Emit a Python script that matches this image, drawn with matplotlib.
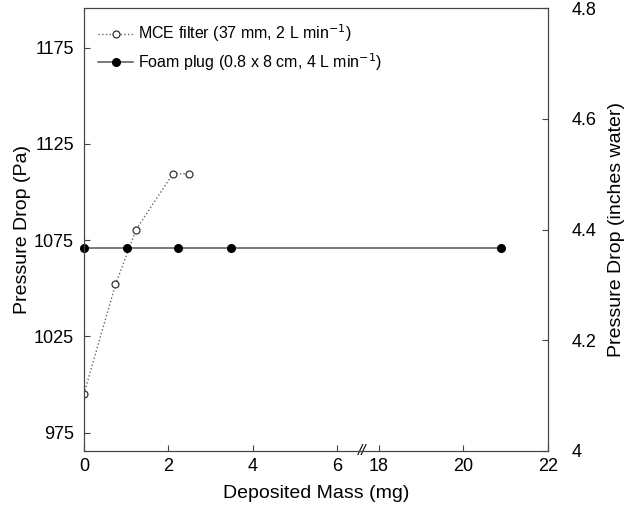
import numpy as np
import matplotlib
matplotlib.use("Agg")
import matplotlib.pyplot as plt

plt.rcParams["font.family"] = ["Liberation Sans", "DejaVu Sans"]

# dados
mce_mass = [0, 0.75, 1.24, 2.11, 2.49]
mce_dp = [995, 1052, 1080.5, 1109.5, 1109.5]
foam_mass = [0, 1.03, 2.24, 3.49, 20.9]
foam_dp = [1071, 1071, 1071, 1071, 1071]

x_ticks = [0, 2, 4, 6, 18, 20, 22]
y_ticks = [975, 1025, 1075, 1125, 1175]
y2_ticks = [4, 4.2, 4.4, 4.6, 4.8]
y2_labels = ["4", "4.2", "4.4", "4.6", "4.8"]


# eixo quebrado: 7..18 some
def fwd(x):
    x = np.asarray(x, dtype=float)
    return np.where(x <= 7, x, np.where(x >= 18, x - 11, 7.0))


def inv(x):
    x = np.asarray(x, dtype=float)
    return np.where(x <= 7, x, x + 11)


fig = plt.figure(figsize=(6.4, 5.14), dpi=100)
ax = fig.add_axes([0.131, 0.1226, 0.725, 0.8618])
ax.set_xscale("function", functions=(fwd, inv))

ax.plot(mce_mass, mce_dp, linestyle=":", color="#666666", lw=1,
        marker="o", mfc="white", mec="#333333", ms=5, mew=0.9,
        label=r"MCE filter (37 mm, 2 L min$^{-1}$)")
ax.plot(foam_mass, foam_dp, linestyle="-", color="#555555", lw=1.1,
        marker="o", mfc="black", mec="black", ms=5.5,
        label=r"Foam plug (0.8 x 8 cm, 4 L min$^{-1}$)", clip_on=False)

ax.set_xlim(0, 22)
ax.set_ylim(965.5, 1195.6)
ax.set_xticks(x_ticks)
ax.set_xticklabels([str(t) for t in x_ticks])
ax.set_yticks(y_ticks)
ax.tick_params(direction="in", length=4, labelsize=13, color="#444444",
               top=False)
ax.tick_params(axis="y", pad=7)
ax.tick_params(axis="x", pad=5)
ax.set_xlabel("Deposited Mass (mg)", fontsize=14, labelpad=7)
ax.set_ylabel("Pressure Drop (Pa)", fontsize=14, labelpad=2)
for s in ax.spines.values():
    s.set_color("#444444")

# marca de quebra
ax.text(6.6, 0, "//", transform=ax.get_xaxis_transform(), ha="center",
        va="center", fontsize=11, style="italic")

ax2 = ax.twinx()
ax2.set_ylim(4, 4.8)
ax2.set_yticks(y2_ticks)
ax2.set_yticklabels(y2_labels)
ax2.tick_params(direction="in", length=4, labelsize=13, color="#444444",
                pad=17)
ax2.set_ylabel("Pressure Drop (inches water)", fontsize=14, labelpad=8)
for s in ax2.spines.values():
    s.set_color("#444444")

ax.legend(loc="upper left", frameon=False, fontsize=11.5, handlelength=2.2,
          handletextpad=0.3, borderaxespad=0.5, labelspacing=0.45,
          borderpad=0.4)

fig.savefig("out.png", dpi=100)
